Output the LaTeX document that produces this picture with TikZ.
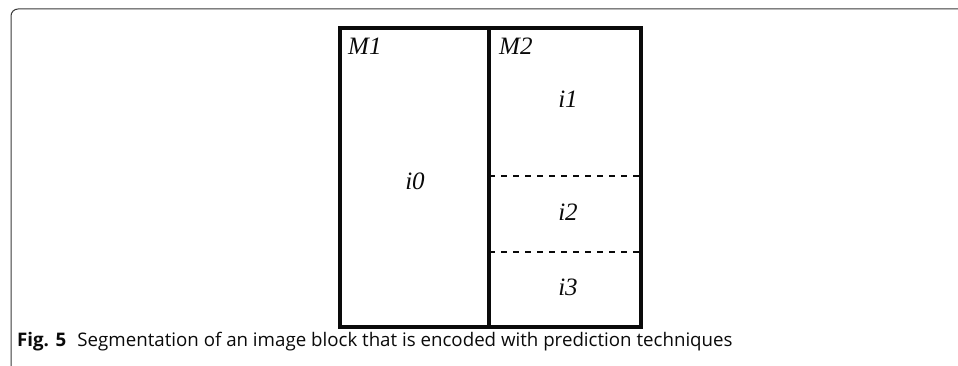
\documentclass[tikz,border=0pt]{standalone}
\usepackage{fontspec}
\setmainfont{Liberation Serif}
\newfontfamily\capfont{Open Sans}
\usepackage{xcolor}
\usetikzlibrary{positioning,calc}
\definecolor{frame}{HTML}{3A3A3A}
\definecolor{ink}{HTML}{0A0A0A}
\tikzset{
  blockline/.style={draw=ink, line width=3.5pt, line cap=rect},
  cutline/.style={draw=ink, line width=2.2pt, dash pattern=on 6pt off 6pt},
  seglbl/.style={font=\fontsize{25}{25}\selectfont\itshape, text=ink, inner sep=0pt},
  caplbl/.style={font=\capfont\fontsize{18.7}{18.7}\selectfont, text=ink, inner sep=0pt, anchor=west},
}

\begin{document}
\begin{tikzpicture}[x=1pt, y=-1pt]
\useasboundingbox (0,0) rectangle (958,366);
% outer frame of the figure
\draw[frame, line width=1pt] (11,366) -- (11,16) arc[start angle=180, end angle=270, radius=7] -- (958,9);
% block and its partitions
\coordinate (tl) at (340,28);
\coordinate (br) at (641,327);
\coordinate (mt) at (489,28);
\coordinate (mb) at (489,327);
\coordinate (c1) at (489,176);
\coordinate (c1e) at (641,176);
\coordinate (c2) at (489,252);
\coordinate (c2e) at (641,252);
\draw[cutline] (c1) -- (c1e);
\draw[cutline] (c2) -- (c2e);
\draw[blockline] (tl) rectangle (br);
\draw[blockline] (mt) -- (mb);
% labels
\node[seglbl, anchor=west] (m1) at (348,46) {M1};
\node[seglbl, anchor=west] (m2) at (499,46) {M2};
\node[seglbl] (i0) at (415,181) {i0};
\node[seglbl] (i1) at (568,99) {i1};
\node[seglbl] (i2) at (568,212) {i2};
\node[seglbl] (i3) at (568,287) {i3};
% caption
\node[caplbl] (cap) at (17,342)
 {\textbf{Fig. 5}\hspace{0.6em}Segmentation of an image block that is encoded with prediction techniques};
\end{tikzpicture}
\end{document}
